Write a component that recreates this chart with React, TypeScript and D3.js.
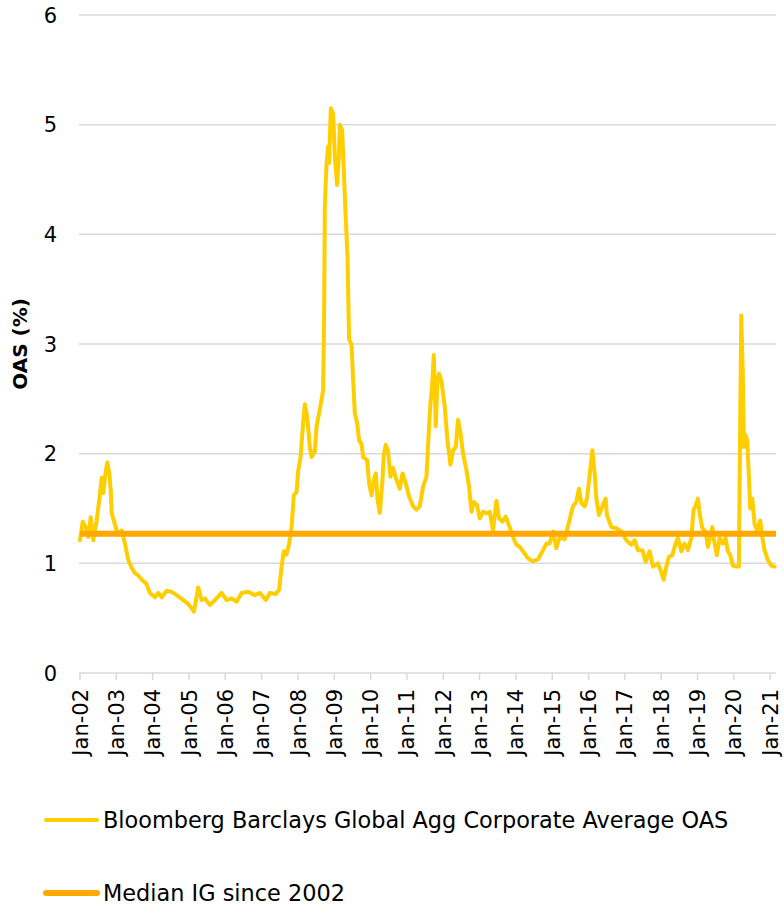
import React from "react";
import * as d3 from "d3";

// Decimal-year dates of the OAS series
const oasDates: number[] = [
  2002.0, 2002.074, 2002.165, 2002.228, 2002.294, 2002.366, 2002.459, 2002.531, 2002.597, 2002.641,
  2002.688, 2002.751, 2002.806, 2002.845, 2002.872, 2002.963, 2003.054, 2003.147, 2003.238, 2003.329,
  2003.422, 2003.513, 2003.604, 2003.697, 2003.816, 2003.926, 2004.063, 2004.154, 2004.248, 2004.385,
  2004.523, 2004.66, 2004.842, 2004.979, 2005.136, 2005.254, 2005.348, 2005.439, 2005.576, 2005.714,
  2005.898, 2006.036, 2006.173, 2006.311, 2006.448, 2006.63, 2006.814, 2006.952, 2007.117, 2007.227,
  2007.392, 2007.483, 2007.549, 2007.612, 2007.686, 2007.758, 2007.824, 2007.887, 2007.962, 2008.006,
  2008.072, 2008.143, 2008.19, 2008.253, 2008.327, 2008.374, 2008.465, 2008.512, 2008.583, 2008.649,
  2008.693, 2008.721, 2008.74, 2008.787, 2008.831, 2008.858, 2008.905, 2008.968, 2009.015, 2009.078,
  2009.125, 2009.153, 2009.216, 2009.263, 2009.318, 2009.364, 2009.408, 2009.474, 2009.519, 2009.565,
  2009.629, 2009.684, 2009.75, 2009.794, 2009.904, 2009.959, 2010.025, 2010.088, 2010.143, 2010.19,
  2010.253, 2010.327, 2010.363, 2010.418, 2010.481, 2010.547, 2010.619, 2010.713, 2010.803, 2010.878,
  2010.968, 2011.059, 2011.169, 2011.263, 2011.353, 2011.444, 2011.538, 2011.609, 2011.648, 2011.692,
  2011.739, 2011.794, 2011.84, 2011.884, 2011.95, 2012.041, 2012.116, 2012.198, 2012.27, 2012.344,
  2012.407, 2012.473, 2012.545, 2012.638, 2012.71, 2012.776, 2012.839, 2012.93, 2013.004, 2013.095,
  2013.189, 2013.279, 2013.37, 2013.464, 2013.535, 2013.629, 2013.719, 2013.829, 2013.92, 2014.014,
  2014.104, 2014.195, 2014.333, 2014.47, 2014.608, 2014.746, 2014.839, 2014.93, 2015.021, 2015.114,
  2015.205, 2015.342, 2015.48, 2015.571, 2015.664, 2015.736, 2015.802, 2015.893, 2015.956, 2016.03,
  2016.105, 2016.168, 2016.215, 2016.286, 2016.38, 2016.47, 2016.506, 2016.627, 2016.765, 2016.902,
  2017.04, 2017.178, 2017.268, 2017.359, 2017.48, 2017.571, 2017.681, 2017.772, 2017.909, 2018.003,
  2018.066, 2018.14, 2018.212, 2018.305, 2018.396, 2018.459, 2018.553, 2018.643, 2018.734, 2018.828,
  2018.891, 2018.946, 2019.01, 2019.056, 2019.131, 2019.221, 2019.285, 2019.351, 2019.406, 2019.469,
  2019.532, 2019.606, 2019.697, 2019.771, 2019.834, 2019.9, 2019.972, 2020.066, 2020.138, 2020.157,
  2020.204, 2020.248, 2020.275, 2020.322, 2020.369, 2020.413, 2020.451, 2020.506, 2020.57, 2020.633,
  2020.726, 2020.781, 2020.845, 2020.935, 2021.029, 2021.12,
];

// OAS values (%)
const oasValues: number[] = [
  1.21, 1.38, 1.32, 1.24, 1.42, 1.21, 1.39, 1.58, 1.78, 1.64,
  1.79, 1.92, 1.82, 1.67, 1.46, 1.35, 1.26, 1.3, 1.18, 1.03,
  0.96, 0.91, 0.89, 0.85, 0.82, 0.73, 0.69, 0.73, 0.69, 0.75,
  0.74, 0.71, 0.665, 0.63, 0.56, 0.78, 0.665, 0.68, 0.62, 0.665,
  0.73, 0.665, 0.68, 0.65, 0.73, 0.74, 0.71, 0.73, 0.665, 0.73,
  0.72, 0.76, 0.97, 1.11, 1.08, 1.18, 1.33, 1.62, 1.65, 1.84,
  1.97, 2.28, 2.45, 2.34, 2.06, 1.97, 2.02, 2.25, 2.37, 2.49,
  2.58, 3.28, 4.25, 4.65, 4.8, 4.65, 5.15, 5.1, 4.71, 4.45,
  4.71, 5.0, 4.95, 4.58, 4.13, 3.8, 3.04, 3.0, 2.67, 2.37,
  2.28, 2.12, 2.09, 1.97, 1.94, 1.73, 1.62, 1.76, 1.82, 1.58,
  1.46, 1.76, 1.99, 2.08, 2.02, 1.79, 1.87, 1.76, 1.68, 1.82,
  1.73, 1.61, 1.52, 1.49, 1.52, 1.7, 1.79, 2.25, 2.46, 2.61,
  2.9, 2.25, 2.67, 2.73, 2.66, 2.43, 2.12, 1.9, 2.03, 2.06,
  2.31, 2.19, 2.0, 1.85, 1.7, 1.47, 1.56, 1.53, 1.41, 1.47,
  1.455, 1.47, 1.3, 1.57, 1.41, 1.38, 1.425, 1.33, 1.24, 1.17,
  1.15, 1.11, 1.045, 1.02, 1.035, 1.12, 1.18, 1.18, 1.29, 1.14,
  1.24, 1.22, 1.4, 1.52, 1.56, 1.68, 1.55, 1.52, 1.59, 1.8,
  2.03, 1.82, 1.59, 1.44, 1.52, 1.59, 1.44, 1.33, 1.32, 1.29,
  1.21, 1.17, 1.21, 1.12, 1.12, 1.015, 1.11, 0.97, 1.0, 0.92,
  0.85, 0.97, 1.06, 1.075, 1.18, 1.23, 1.11, 1.18, 1.12, 1.23,
  1.49, 1.52, 1.59, 1.46, 1.32, 1.29, 1.15, 1.24, 1.33, 1.18,
  1.075, 1.23, 1.18, 1.23, 1.11, 1.075, 0.98, 0.97, 0.97, 1.67,
  3.26, 2.7, 2.06, 2.17, 2.12, 1.79, 1.5, 1.59, 1.36, 1.3,
  1.39, 1.24, 1.12, 1.03, 0.98, 0.97,
];

const medianIG = 1.27;

const yTicks: number[] = [0, 1, 2, 3, 4, 5, 6];
const xTickYears: number[] = [
  2002, 2003, 2004, 2005, 2006, 2007, 2008, 2009, 2010, 2011,
  2012, 2013, 2014, 2015, 2016, 2017, 2018, 2019, 2020, 2021,
];
const xTickLabels: string[] = [
  "Jan-02", "Jan-03", "Jan-04", "Jan-05", "Jan-06", "Jan-07", "Jan-08", "Jan-09", "Jan-10", "Jan-11",
  "Jan-12", "Jan-13", "Jan-14", "Jan-15", "Jan-16", "Jan-17", "Jan-18", "Jan-19", "Jan-20", "Jan-21",
];

const seriesName = "Bloomberg Barclays Global Agg Corporate Average OAS";
const medianName = "Median IG since 2002";
const yTitle = "OAS (%)";

const W = 784;
const H = 907;
const FONT = "'DejaVu Sans', 'Open Sans', sans-serif";
const YELLOW = "#FFCE00";
const ORANGE = "#FFA900";

export default function App() {
  const x = d3.scaleLinear().domain([2002, 2021.16]).range([80, 776]);
  const y = d3.scaleLinear().domain([0, 6]).range([673, 15]);

  const pts: [number, number][] = oasDates.map((d, i) => [d, oasValues[i]]);
  const line = d3
    .line<[number, number]>()
    .x((d) => x(d[0]))
    .y((d) => y(d[1]))
    .curve(d3.curveLinear);

  const [x0, x1] = x.range();

  return (
    <svg
      width={W}
      height={H}
      style={{ position: "absolute", left: 0, top: 0, display: "block", background: "#fff" }}
      fontFamily={FONT}
    >
      {/* gridlines */}
      {yTicks.map((t) => (
        <line key={"g" + t} x1={x0 - 1} x2={x1} y1={y(t)} y2={y(t)} stroke="#d9d9d9" strokeWidth={1.5} />
      ))}
      {/* y labels */}
      {yTicks.map((t) => (
        <text key={"yl" + t} x={57} y={y(t)} dy="0.36em" textAnchor="end" fontSize={21} fill="#000">
          {t}
        </text>
      ))}
      {/* y title */}
      <text
        transform={`translate(20,${y(3)}) rotate(-90)`}
        textAnchor="middle"
        dy="0.36em"
        fontSize={20}
        fontWeight="bold"
        fill="#000"
      >
        {yTitle}
      </text>
      {/* x ticks */}
      {xTickYears.map((yr) => (
        <line key={"xt" + yr} x1={x(yr)} x2={x(yr)} y1={y(0)} y2={y(0) + 7} stroke="#d9d9d9" strokeWidth={1.5} />
      ))}
      {xTickYears.map((yr, i) => (
        <text
          key={"xl" + yr}
          transform={`translate(${x(yr)},${y(0) + 16}) rotate(-90)`}
          textAnchor="end"
          dy="0.36em"
          fontSize={21}
          fill="#000"
        >
          {xTickLabels[i]}
        </text>
      ))}
      {/* series */}
      <path d={line(pts) || ""} fill="none" stroke={YELLOW} strokeWidth={4} strokeLinejoin="round" strokeLinecap="round" />
      {/* median */}
      <line x1={x0} x2={x1} y1={y(medianIG)} y2={y(medianIG)} stroke={ORANGE} strokeWidth={6} />
      {/* legend */}
      <line x1={46} x2={97} y1={820} y2={820} stroke={YELLOW} strokeWidth={4} strokeLinecap="round" />
      <text x={103} y={820} dy="0.36em" fontSize={22.4} fill="#000">
        {seriesName}
      </text>
      <line x1={46} x2={97} y1={893} y2={893} stroke={ORANGE} strokeWidth={6} strokeLinecap="round" />
      <text x={103} y={893} dy="0.36em" fontSize={22.4} fill="#000">
        {medianName}
      </text>
    </svg>
  );
}
